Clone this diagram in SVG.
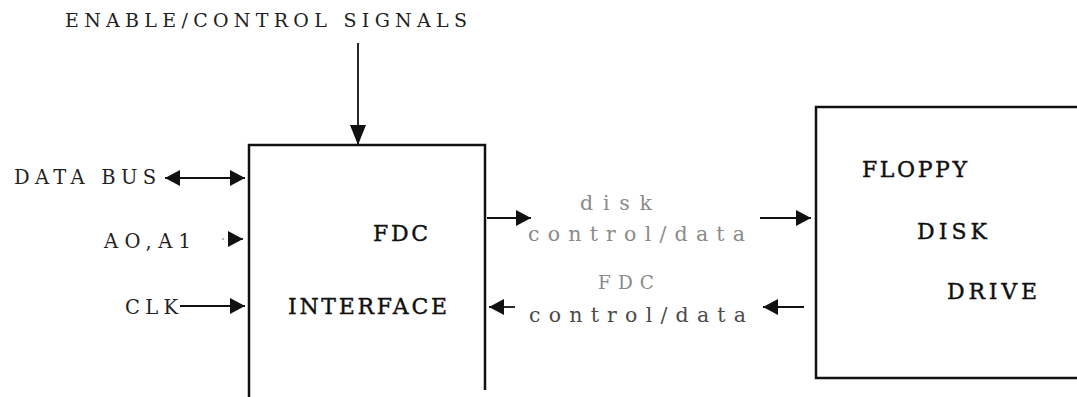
<svg xmlns="http://www.w3.org/2000/svg" width="1077" height="397" viewBox="0 0 1077 397">
<style>
.t{font-family:"DejaVu Serif","Liberation Serif",serif;fill:#222}
.b{fill:#111;stroke:#111;stroke-width:0.4}
.g1{fill:#8a8a8a}
.g2{fill:#4a4a4a}
.box{fill:none;stroke:#111;stroke-width:2.5}
.c{fill:none;stroke:#111;stroke-width:1.8}
</style>
<defs>
<marker id="ah" markerUnits="userSpaceOnUse" markerWidth="18" markerHeight="18" refX="15" refY="8" orient="auto-start-reverse">
<path d="M0,0 L15,8 L0,16 z" fill="#111"/>
</marker>
<marker id="ahL" markerUnits="userSpaceOnUse" markerWidth="22" markerHeight="18" refX="20" refY="8" orient="auto">
<path d="M0,0 L20,8 L0,16 z" fill="#111"/>
</marker>
</defs>
<text class="t" x="65" y="27" font-size="19" textLength="402" lengthAdjust="spacing">ENABLE/CONTROL SIGNALS</text>
<g id="fdc">
<path class="box" d="M249,397 V145 H485 V390"/>
<text class="t b" x="373" y="241" font-size="22" textLength="55" lengthAdjust="spacing">FDC</text>
<text class="t b" x="288" y="314" font-size="22" textLength="159" lengthAdjust="spacing">INTERFACE</text>
</g>
<g id="drive">
<path class="box" d="M1080,107 H816 V378 H1080"/>
<text class="t b" x="862" y="177" font-size="22" textLength="105" lengthAdjust="spacing">FLOPPY</text>
<text class="t b" x="917" y="239" font-size="22" textLength="70" lengthAdjust="spacing">DISK</text>
<text class="t b" x="947" y="299" font-size="22" textLength="90" lengthAdjust="spacing">DRIVE</text>
</g>
<g id="labels">
<text class="t" x="14" y="184" font-size="19.5" textLength="142" lengthAdjust="spacing">DATA BUS</text>
<text class="t" x="104" y="248" font-size="19.5" textLength="87" lengthAdjust="spacing">AO,A1</text>
<text class="t" x="125" y="314" font-size="19.5" textLength="53" lengthAdjust="spacing">CLK</text>
<text class="t g1" x="580" y="210" font-size="20.5" textLength="72" lengthAdjust="spacing">disk</text>
<text class="t g1" x="528" y="241" font-size="20.5" textLength="217" lengthAdjust="spacing">control/data</text>
<text class="t g1" x="598" y="289" font-size="18.5" textLength="56" lengthAdjust="spacing">FDC</text>
<text class="t g2" x="529" y="322" font-size="20.5" textLength="217" lengthAdjust="spacing">control/data</text>
</g>
<g id="connectors">
<path class="c" d="M358,43 V145" marker-end="url(#ahL)"/>
<path class="c" d="M165,178 H245" marker-start="url(#ah)" marker-end="url(#ah)"/>
<path class="c" d="M229,239 H243" stroke-width="0.5" marker-end="url(#ah)"/>
<circle cx="223" cy="239" r="0.8" fill="#555"/>
<path class="c" d="M180,306 H245" marker-end="url(#ah)"/>
<path class="c" d="M487,218 H531" marker-end="url(#ah)"/>
<path class="c" d="M515,307 H489" marker-end="url(#ah)"/>
<path class="c" d="M760,218 H811" marker-end="url(#ah)"/>
<path class="c" d="M804,307 H763" marker-end="url(#ah)"/>
</g>
</svg>
